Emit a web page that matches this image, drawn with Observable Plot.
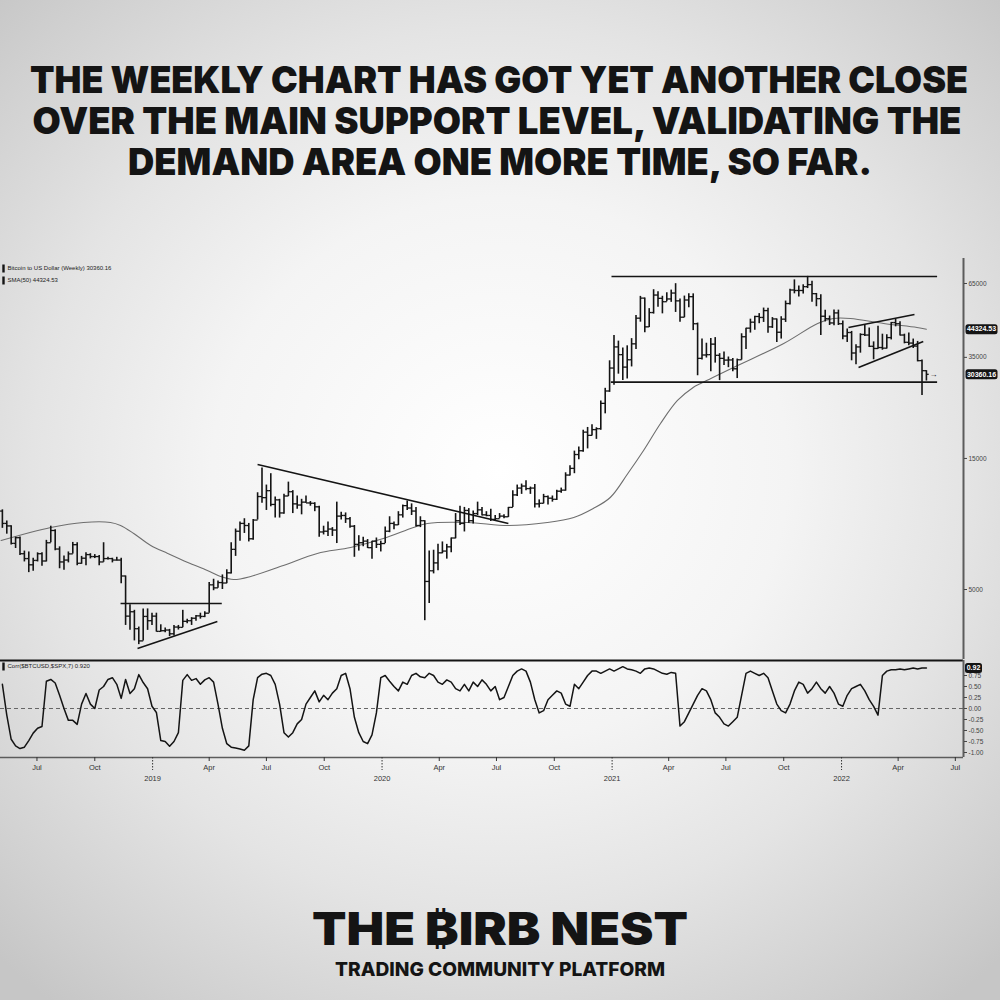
<!DOCTYPE html>
<html><head><meta charset="utf-8">
<script src="https://cdn.jsdelivr.net/npm/d3@7"></script>
<script src="https://cdn.jsdelivr.net/npm/@observablehq/plot@0.6"></script>
<style>
html,body{margin:0;padding:0;}
body{width:1000px;height:1000px;position:relative;overflow:hidden;
background: radial-gradient(ellipse 72% 68% at 50% 47%, #ffffff 0%, #f4f4f4 40%, #e4e4e4 65%, #cfcfcf 90%, #c6c6c6 100%);}
.abs{position:absolute;left:0;}
#title{top:0}
#main{top:258px}
#corr{top:659px}
#brand{top:880px}
</style></head><body>
<svg id="title" class="abs" width="1000" height="200" font-family="Inter, Roboto, 'Open Sans', sans-serif" font-weight="900" fill="#141414">
  <text x="499" y="93" font-size="37" text-anchor="middle" textLength="938" lengthAdjust="spacingAndGlyphs">THE WEEKLY CHART HAS GOT YET ANOTHER CLOSE</text>
  <text x="497" y="134" font-size="37" text-anchor="middle" textLength="929" lengthAdjust="spacingAndGlyphs">OVER THE MAIN SUPPORT LEVEL, VALIDATING THE</text>
  <text x="500" y="175" font-size="37" text-anchor="middle" textLength="744" lengthAdjust="spacingAndGlyphs">DEMAND AREA ONE MORE TIME, SO FAR.</text>
</svg>
<div id="main" class="abs"></div>
<div id="corr" class="abs"></div>
<svg id="brand" class="abs" width="1000" height="120" font-family="Inter, Roboto, 'Noto Sans', 'DejaVu Sans', sans-serif" font-weight="900" fill="#141414">
  <text x="500" y="65" font-size="45" text-anchor="middle" textLength="376" lengthAdjust="spacingAndGlyphs">THE ₿IRB NEST</text>
  <text x="500" y="96" font-size="19" font-weight="800" text-anchor="middle" textLength="330" lengthAdjust="spacingAndGlyphs">TRADING COMMUNITY PLATFORM</text>
</svg>
<script>
// ---------------- DATA ----------------
const startWeek = "2018-05-07";          // first weekly bar
const firstOpen = 9650;                  // open of the first bar (later opens = previous close)
const high = [
  // 2018 (from May 7)
  9750, 8880, 8540, 7750, 7770, 6900, 6850, 6500, 6800, 6800, 7550, 8500, 8250, 7150, 6620, 6850, 7420, 7400, 6600, 6800, 6750, 6700, 6650, 7400, 6550, 6500, 6550, 6500, 5600, 4400, 4200, 3650, 4250, 4250, 4100,
  // 2019
  4100, 3720, 3620, 3580, 3700, 3700, 4200, 3900, 3950, 4020, 4100, 4150, 5300, 5450, 5370, 5650, 5900, 7400, 8300, 8800, 9050, 8700, 9000, 11250, 13850, 12000, 13200, 10850, 10650, 11100, 12300, 11450, 10950, 10650, 10950, 10450, 10350, 10050, 8500, 8800, 8400, 10400, 9550, 9500, 9150, 8550, 7850, 7750, 7600, 7500, 7700, 7500,
  // 2020
  8450, 9200, 8800, 9600, 10150, 10500, 10250, 9950, 9200, 8900, 6900, 6950, 7300, 7450, 7300, 7700, 9450, 10050, 9950, 9850, 9650, 10400, 9950, 9600, 9800, 9300, 9450, 9350, 9950, 11450, 12000, 12100, 12450, 11800, 12050, 10600, 11100, 10950, 10950, 11500, 11700, 13300, 14100, 15950, 16500, 19000, 19450, 19900, 19400, 24300, 27000, 34000,
  // 2021
  42000, 40100, 37850, 38550, 40950, 49700, 58350, 57500, 52650, 61700, 60600, 58400, 60100, 61500, 64900, 57100, 58500, 59600, 59600, 46650, 40800, 39400, 40950, 41300, 36100, 36600, 35100, 34700, 34500, 42650, 44700, 48200, 49400, 50500, 52900, 52850, 48850, 48300, 49200, 56100, 62000, 67000, 63700, 64300, 69000, 66300, 59800, 59200, 51950, 49500, 52100, 52000,
  // 2022
  47500, 44400, 43500, 38900, 42650, 45850, 44750, 39850, 45400, 42500, 42300, 46900, 48200, 47200, 42500, 42900, 40800, 40000, 34250, 31300
];
const low = [
  8350, 7950, 7260, 7050, 6650, 6300, 5760, 5830, 6300, 6080, 6300, 7400, 6920, 5950, 5880, 6250, 6730, 6100, 6180, 6100, 6460, 6480, 6100, 6280, 6400, 6250, 6350, 5250, 3700, 3550, 3250, 3150, 3250, 3550, 3700,
  3500, 3500, 3480, 3370, 3390, 3560, 3630, 3750, 3700, 3830, 3900, 3950, 4100, 4950, 5050, 5000, 5250, 5700, 6600, 7500, 8000, 7450, 7550, 8950, 10300, 9700, 10000, 9100, 9100, 9400, 10900, 9450, 9800, 9350, 10300, 10050, 9600, 7750, 7900, 7800, 7800, 7350, 8950, 8700, 8350, 6550, 6900, 7150, 7050, 6450, 7050, 6850,
  7350, 8050, 8250, 8550, 9100, 9700, 9300, 8450, 8400, 3850, 4450, 5700, 5850, 6750, 6450, 6800, 7650, 8550, 8100, 8700, 8650, 9300, 9250, 9200, 8850, 8900, 9050, 9050, 9150, 9950, 10900, 11100, 11450, 11100, 9900, 9900, 10250, 10150, 10400, 10550, 11200, 11400, 12950, 13200, 14850, 15800, 16250, 18100, 17600, 19000, 21800, 26100,
  27700, 30400, 28800, 29200, 32300, 37400, 47000, 43000, 44950, 50300, 53300, 50400, 55800, 55500, 51000, 47000, 48800, 53050, 43800, 30000, 34200, 34800, 31000, 33350, 28800, 32700, 32100, 31050, 29300, 34200, 37400, 42900, 43950, 46400, 46900, 42850, 44600, 39600, 40800, 46900, 54300, 59600, 58000, 59500, 62300, 55600, 53500, 42000, 47100, 45700, 45600, 45700,
  40600, 39650, 34000, 32900, 36250, 41650, 38000, 34300, 37450, 37150, 37550, 40500, 45200, 41900, 39200, 38550, 37700, 33700, 25400, 28700
];
const close = [
  8700, 8520, 7360, 7720, 6750, 6480, 6150, 6380, 6750, 6350, 7400, 8200, 7020, 6300, 6400, 6740, 7280, 6230, 6500, 6700, 6590, 6590, 6300, 6480, 6480, 6400, 6400, 5600, 4000, 4150, 3600, 3250, 3990, 3850, 4000,
  3520, 3540, 3560, 3450, 3650, 3640, 3830, 3850, 3930, 4010, 3990, 4100, 5200, 5070, 5300, 5280, 5750, 7000, 8150, 8700, 8550, 7650, 8950, 10900, 10800, 11450, 10200, 10600, 9500, 10950, 11350, 10250, 10150, 10400, 10330, 10300, 10000, 8100, 8150, 8300, 8230, 9250, 9300, 9050, 8500, 7300, 7400, 7500, 7100, 7500, 7300, 7350,
  8150, 8700, 8600, 9350, 10100, 9900, 9650, 8550, 8900, 5350, 5850, 6250, 6800, 6900, 7150, 7700, 8900, 8700, 9700, 8900, 9450, 9750, 9350, 9300, 9000, 9050, 9250, 9200, 9950, 11050, 11700, 11900, 11650, 11700, 10250, 10300, 10900, 10750, 10650, 11400, 11500, 13050, 13800, 15500, 16000, 18700, 18200, 19100, 19250, 23800, 26400, 32000,
  38200, 35800, 32250, 34300, 39200, 48600, 57500, 45200, 50950, 59000, 57400, 55800, 57100, 60000, 56200, 49000, 56600, 58200, 46400, 34700, 35700, 35800, 39100, 35600, 34700, 34200, 34250, 31800, 34300, 41600, 44700, 47000, 49300, 48900, 51800, 45200, 48300, 43200, 48200, 54950, 61550, 61300, 61300, 63300, 64400, 59700, 57250, 49400, 48400, 46700, 50800, 46400,
  41850, 43100, 36300, 38200, 42400, 42200, 38400, 37700, 38000, 37800, 41300, 46850, 46400, 42200, 39700, 39450, 38450, 34050, 31300, 30360.16
];
// Corr($BTCUSD,$SPX,7), one value per weekly bar
const corr = [
  0.55,-0.15,-0.70,-0.85,-0.91,-0.88,-0.73,-0.56,-0.45,-0.41,0.62,0.66,0.58,0.30,0.00,-0.27,-0.27,-0.36,0.10,0.34,0.10,0.00,0.42,0.50,0.66,0.70,0.55,0.23,0.66,0.34,0.45,0.77,0.59,0.45,0.05,-0.09,-0.73,-0.75,-0.86,-0.75,-0.55,0.64,0.77,0.64,0.68,0.55,
  0.65,0.70,0.60,0.10,-0.45,-0.80,-0.88,-0.90,-0.92,-0.95,-0.85,0.20,0.70,0.78,0.80,0.75,0.55,0.10,-0.55,-0.65,-0.55,-0.35,-0.25,0.10,0.25,0.40,0.15,0.30,0.20,0.35,0.45,0.75,0.80,0.45,-0.20,-0.55,-0.75,-0.80,-0.60,-0.10,0.70,0.75,0.62,0.50,0.40,0.60,0.55,0.75,0.80,0.72,0.70,0.80,0.75,0.60,
  0.55,0.65,0.60,0.45,0.40,0.55,0.40,0.60,0.50,0.65,0.55,0.40,0.50,0.20,0.25,0.50,0.75,0.85,0.90,0.85,0.60,0.20,-0.10,-0.05,0.20,0.30,0.40,0.35,0.10,0.05,0.55,0.45,0.60,0.75,0.85,0.85,0.80,0.85,0.90,0.85,0.90,0.95,0.90,0.88,0.85,0.80,0.90,0.92,0.90,0.85,0.80,0.78,0.82,0.80,
  -0.40,-0.30,-0.10,0.10,0.30,0.45,0.40,0.20,-0.10,-0.20,-0.35,-0.40,-0.30,-0.20,0.30,0.80,0.85,0.80,0.75,0.80,0.70,0.40,0.10,-0.05,-0.10,0.10,0.40,0.60,0.55,0.35,0.45,0.60,0.45,0.35,0.50,0.35,0.10,0.05,0.30,0.45,0.50,0.55,0.40,0.20,0.05,-0.15,0.75,0.85,0.88,0.88,0.90,0.88,0.90,0.92,0.90,0.92,0.92
];
// SMA(50)
const smaDates = ["2018-05-05","2018-07-23","2018-09-13","2018-10-26","2018-11-11","2018-12-02","2018-12-29","2019-01-25","2019-02-26","2019-03-29","2019-04-19","2019-05-10","2019-06-06","2019-07-28","2019-09-20","2019-11-12","2020-01-03","2020-02-20","2020-03-13","2020-05-16","2020-07-20","2020-09-20","2020-11-01","2020-12-02","2020-12-29","2021-01-26","2021-02-20","2021-03-19","2021-04-15","2021-05-10","2021-05-22","2021-07-13","2021-10-01","2021-11-24","2021-12-19","2022-01-15","2022-03-09","2022-05-01","2022-05-16"];
const smaValues = [7540,8410,8770,8770,8550,7995,7230,6765,6272,5866,5578,5438,5578,6116,6765,7110,7665,8410,8695,8770,8550,8770,9145,9860,10810,13220,16030,20100,24380,27190,28110,32150,39310,46490,48480,48480,46490,44950,44325];
// Drawn trendlines (start date/price, end date/price)
const trendStart = ["2020-12-31","2020-12-30","2022-01-12","2022-01-28","2019-06-17","2018-11-11","2018-12-08"];
const trendStartPrice = [68900, 28430, 44950, 32150, 14260, 4446, 3051];
const trendEnd = ["2022-06-02","2022-06-02","2022-04-27","2022-05-11","2020-07-20","2019-04-21","2019-04-14"];
const trendEndPrice = [68900, 28430, 50120, 39990, 8696, 4446, 3823];
// Axes
const priceTicks = [5000, 15000, 35000, 65000];
const corrTicks = [-1, -0.75, -0.5, -0.25, 0, 0.25, 0.5, 0.75];
const monthTicks = ["2018-07-01","2018-10-01","2019-04-01","2019-07-01","2019-10-01","2020-04-01","2020-07-01","2020-10-01","2021-04-01","2021-07-01","2021-10-01","2022-04-01","2022-07-01"];
const yearTicks = ["2019-01-01","2020-01-01","2021-01-01","2022-01-01"];
const priceLabels = ["44324.53", "30360.16"];
const corrLabel = "0.92";
const legendMain = ["Bitcoin to US Dollar (Weekly) 30360.16", "SMA(50) 44324.53"];
const legendCorr = "Corr($BTCUSD,$SPX,7) 0.920";

// ---------------- BUILD ----------------
const parse = d3.utcParse("%Y-%m-%d");
const start = parse(startWeek);
const bars = high.map((h, i) => ({
  date: d3.utcDay.offset(start, 7 * i),
  open: i ? close[i - 1] : firstOpen, high: h, low: low[i], close: close[i], corr: corr[i]
}));
const sma = smaDates.map((d, i) => ({date: parse(d), value: smaValues[i]}));
const trends = trendStart.map((d, i) => ({d1: parse(d), p1: trendStartPrice[i], d2: parse(trendEnd[i]), p2: trendEndPrice[i]}));
const xDomain = [parse("2018-05-04"), parse("2022-07-14")];
const priceDomain = [2781, 80150];
const corrDomain = [-1.114, 1.091];

const openTick = {draw(ctx, size) { const r = Math.sqrt(size / Math.PI); ctx.moveTo(-r, 0); ctx.lineTo(0, 0); }};
const closeTick = {draw(ctx, size) { const r = Math.sqrt(size / Math.PI); ctx.moveTo(0, 0); ctx.lineTo(r, 0); }};
function roundBox(w, h, r) {
  return {draw(ctx) {
    const x0 = -w / 2, y0 = -h / 2, x1 = w / 2, y1 = h / 2;
    ctx.moveTo(x0 + r, y0); ctx.lineTo(x1 - r, y0); ctx.arcTo(x1, y0, x1, y0 + r, r);
    ctx.lineTo(x1, y1 - r); ctx.arcTo(x1, y1, x1 - r, y1, r);
    ctx.lineTo(x0 + r, y1); ctx.arcTo(x0, y1, x0, y1 - r, r);
    ctx.lineTo(x0, y0 + r); ctx.arcTo(x0, y0, x0 + r, y0, r); ctx.closePath();
  }};
}
const swatch = {draw(ctx) { ctx.rect(-1.2, -4, 2.4, 8); }};
const font = "'Liberation Sans', Arial, sans-serif";
const ink = "#141414";

const mainPlot = Plot.plot({
  width: 1000, height: 401, marginTop: 0, marginBottom: 0, marginLeft: 0, marginRight: 37,
  style: {background: "transparent", fontFamily: font, overflow: "visible"},
  x: {type: "utc", domain: xDomain, axis: null},
  y: {type: "log", domain: priceDomain, axis: null},
  marks: [
    Plot.line(sma, {x: "date", y: "value", curve: "catmull-rom", stroke: "#6e6e6e", strokeWidth: 1.1}),
    Plot.ruleX(bars, {x: "date", y1: "low", y2: "high", stroke: ink, strokeWidth: 1.6}),
    Plot.dot(bars, {x: "date", y: "open", symbol: openTick, r: 2.3, stroke: ink, strokeWidth: 1.3, fill: "none"}),
    Plot.dot(bars, {x: "date", y: "close", symbol: closeTick, r: 2.3, stroke: ink, strokeWidth: 1.3, fill: "none"}),
    Plot.link(trends, {x1: "d1", y1: "p1", x2: "d2", y2: "p2", stroke: ink, strokeWidth: 1.6}),
    Plot.text(bars.slice(-1), {x: "date", y: "close", text: () => "→", dx: 7, fontSize: 8, fontWeight: "bold", fill: ink}),
    Plot.ruleX([xDomain[1]], {stroke: "#5c5c5c", strokeWidth: 2}),
    Plot.axisY({anchor: "right", label: null, ticks: priceTicks, tickFormat: d => String(d), tickSize: 3, tickPadding: 2, fontSize: 6.5, color: "#444"}),
    Plot.dot(priceLabels, {y: d => +d, frameAnchor: "right", dx: 18, symbol: roundBox(32, 10, 2.5), fill: ink}),
    Plot.text(priceLabels, {y: d => +d, text: d => d, frameAnchor: "right", dx: 18, textAnchor: "middle", fill: "white", fontSize: 7, fontWeight: "bold"}),
    Plot.dot([legendMain[0]], {frameAnchor: "top-left", dx: 3, dy: 10, symbol: swatch, fill: ink}),
    Plot.dot([legendMain[1]], {frameAnchor: "top-left", dx: 3, dy: 22, symbol: swatch, fill: ink}),
    Plot.text([legendMain[0]], {frameAnchor: "top-left", dx: 7, dy: 10, text: d => d, textAnchor: "start", lineAnchor: "middle", fontSize: 6, fill: "#222"}),
    Plot.text([legendMain[1]], {frameAnchor: "top-left", dx: 7, dy: 22, text: d => d, textAnchor: "start", lineAnchor: "middle", fontSize: 6, fill: "#222"})
  ]
});
document.getElementById("main").append(mainPlot);

const corrPlot = Plot.plot({
  width: 1000, height: 128, marginTop: 1, marginBottom: 30, marginLeft: 0, marginRight: 37,
  style: {background: "transparent", fontFamily: font, overflow: "visible"},
  x: {type: "utc", domain: xDomain, axis: null},
  y: {domain: corrDomain, axis: null},
  marks: [
    Plot.ruleY([0], {stroke: "#666", strokeDasharray: "4,3", strokeWidth: 1.1}),
    Plot.lineY(bars, {x: "date", y: "corr", stroke: ink, strokeWidth: 1.5}),
    Plot.ruleY([corrDomain[1]], {stroke: ink, strokeWidth: 2.2}),
    Plot.ruleY([corrDomain[0]], {stroke: "#5c5c5c", strokeWidth: 1.6}),
    Plot.ruleX([xDomain[1]], {stroke: "#5c5c5c", strokeWidth: 2}),
    Plot.axisY({anchor: "right", label: null, ticks: corrTicks, tickFormat: d => d.toFixed(2), tickSize: 3, tickPadding: 2, fontSize: 6.5, color: "#444"}),
    Plot.axisX({label: null, ticks: monthTicks.map(parse), tickFormat: d3.utcFormat("%b"), tickSize: 4, tickPadding: 3, fontSize: 7.5, color: "#333"}),
    Plot.axisX({label: null, ticks: yearTicks.map(parse), tickFormat: d3.utcFormat("%Y"), tickSize: 13, tickPadding: 5, fontSize: 7.5, color: "#333", strokeDasharray: "1.5,1.5"}),
    Plot.dot([+corrLabel], {y: d => d, frameAnchor: "right", dx: 10, symbol: roundBox(17, 10, 2.5), fill: ink}),
    Plot.text([corrLabel], {y: d => +d, text: d => d, frameAnchor: "right", dx: 10, textAnchor: "middle", fill: "white", fontSize: 7, fontWeight: "bold"}),
    Plot.dot([legendCorr], {frameAnchor: "top-left", dx: 3, dy: 6, symbol: swatch, fill: ink}),
    Plot.text([legendCorr], {frameAnchor: "top-left", dx: 7, dy: 6, text: d => d, textAnchor: "start", lineAnchor: "middle", fontSize: 6, fill: "#222"})
  ]
});
document.getElementById("corr").append(corrPlot);
</script>
</body></html>
